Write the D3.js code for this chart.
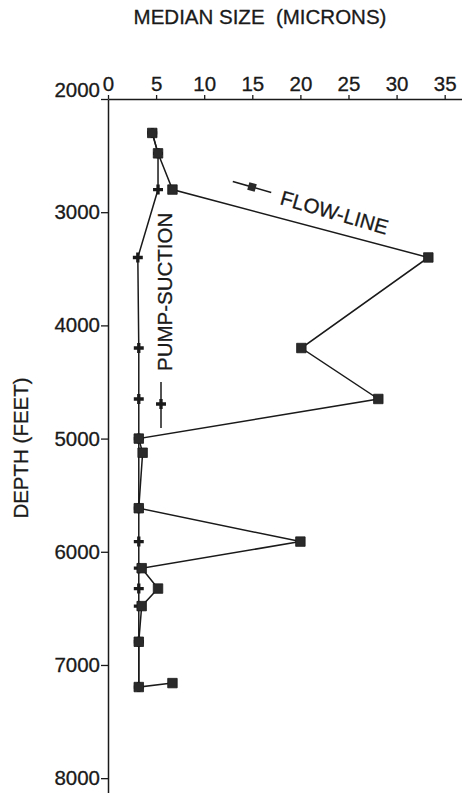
<!DOCTYPE html>
<html>
<head>
<meta charset="utf-8">
<script src="https://cdn.jsdelivr.net/npm/d3@7"></script>
<style>
  body { margin: 0; background: #fff; }
  svg text { font-family: "Liberation Sans", Arial, sans-serif; fill: #1a1a1a; }
</style>
</head>
<body>
<svg id="chart" width="462" height="793"></svg>
<script>
// flow-line samples, in drawing order
const flowDepth = [2300, 2480, 2800, 3400, 4200, 4650, 5000, 5125, 5615, 5910, 6145, 6325, 6480, 6795, 7195, 7160];
const flowSize  = [4.6, 5.2, 6.7, 33.3, 20.1, 28.1, 3.2, 3.6, 3.2, 20.0, 3.5, 5.2, 3.5, 3.2, 3.2, 6.7];

// pump-suction samples
const pumpDepth = [2300, 2480, 2800, 3400, 4200, 4650, 5000, 5615, 5910, 6145, 6325, 6480, 6795, 7195];
const pumpSize  = [4.6, 5.2, 5.2, 3.1, 3.2, 3.2, 3.2, 3.2, 3.2, 3.2, 3.2, 3.2, 3.2, 3.2];

const sizeTicks = [0, 5, 10, 15, 20, 25, 30, 35];
const depthTicks = [2000, 3000, 4000, 5000, 6000, 7000, 8000];

const width = 462, height = 793;
const margin = {top: 99, left: 108};
const ink = "#1a1a1a";

const svg = d3.select("#chart");

const x = d3.scaleLinear()
  .domain([0, 36.8])
  .range([margin.left, width]);

const y = d3.scaleLinear()
  .domain([2000, 8131])
  .range([margin.top, height]);

// axes
const xAxis = svg.append("g")
  .attr("transform", `translate(0,${margin.top})`)
  .call(d3.axisTop(x).tickValues(sizeTicks).tickSize(4).tickPadding(4).tickSizeOuter(0));

const yAxis = svg.append("g")
  .attr("transform", `translate(${margin.left},0)`)
  .call(d3.axisLeft(y).tickValues(depthTicks).tickFormat(d3.format("d")).tickSize(7).tickPadding(1).tickSizeOuter(0));

[xAxis, yAxis].forEach(g => {
  g.selectAll(".domain").attr("stroke", ink).attr("stroke-width", 1.5);
  g.selectAll(".tick line").attr("stroke", ink).attr("stroke-width", 1.3);
  g.selectAll(".tick text")
    .attr("fill", ink)
    .attr("stroke", ink).attr("stroke-width", 0.3)
    .style("font-size", "20.5px")
    .style("font-family", "'Liberation Sans', Arial, sans-serif");
});
yAxis.selectAll(".tick text").filter(d => d === 2000).attr("dy", "-0.1em");

// titles
svg.append("text")
  .attr("x", 260).attr("y", 24)
  .attr("text-anchor", "middle")
  .attr("stroke", ink).attr("stroke-width", 0.3)
  .style("font-size", "20.5px")
  .style("white-space", "pre")
  .text("MEDIAN SIZE  (MICRONS)");

svg.append("text")
  .attr("transform", "translate(28,448) rotate(-90)")
  .attr("text-anchor", "middle")
  .attr("stroke", ink).attr("stroke-width", 0.3)
  .style("font-size", "20.5px")
  .text("DEPTH (FEET)");

const line = d3.line()
  .x(d => x(d[0]))
  .y(d => y(d[1]));

const pump = pumpSize.map((s, i) => [s, pumpDepth[i]]);
const flow = flowSize.map((s, i) => [s, flowDepth[i]]);

const square = d3.symbol().type(d3.symbolSquare).size(90);
const cross = d3.symbol().type(d3.symbolCross).size(55);

// pump-suction series
svg.append("path")
  .datum(pump)
  .attr("d", line)
  .attr("fill", "none")
  .attr("stroke", ink)
  .attr("stroke-width", 1.5);

// flow-line series
svg.append("path")
  .datum(flow)
  .attr("d", line)
  .attr("fill", "none")
  .attr("stroke", ink)
  .attr("stroke-width", 1.5);

svg.append("g")
  .selectAll("path")
  .data(pump)
  .join("path")
  .attr("transform", d => `translate(${x(d[0])},${y(d[1])})`)
  .attr("d", cross)
  .attr("fill", ink);

svg.append("g")
  .selectAll("path")
  .data(flow)
  .join("path")
  .attr("transform", d => `translate(${x(d[0])},${y(d[1])})`)
  .attr("d", square)
  .attr("fill", "#2a2a2a")
  .attr("stroke", ink)
  .attr("stroke-width", 0.8);

// legend: flow-line
const flowKey = svg.append("g").attr("transform", "translate(252,187) rotate(16)");
flowKey.append("line")
  .attr("x1", -20).attr("x2", 20)
  .attr("stroke", ink).attr("stroke-width", 1.5);
flowKey.append("path")
  .attr("d", d3.symbol().type(d3.symbolSquare).size(60))
  .attr("fill", "#2a2a2a");
svg.append("text")
  .attr("transform", "translate(279,204) rotate(16)")
  .attr("stroke", ink).attr("stroke-width", 0.3)
  .style("font-size", "20.5px")
  .text("FLOW-LINE");

// legend: pump-suction
const pumpKey = svg.append("g").attr("transform", "translate(161,404)");
pumpKey.append("line")
  .attr("y1", -22).attr("y2", 24)
  .attr("stroke", ink).attr("stroke-width", 1.5);
pumpKey.append("path")
  .attr("d", cross)
  .attr("fill", ink);
svg.append("text")
  .attr("transform", "translate(172,371) rotate(-90)")
  .attr("stroke", ink).attr("stroke-width", 0.3)
  .style("font-size", "20.5px")
  .text("PUMP-SUCTION");
</script>
</body>
</html>
